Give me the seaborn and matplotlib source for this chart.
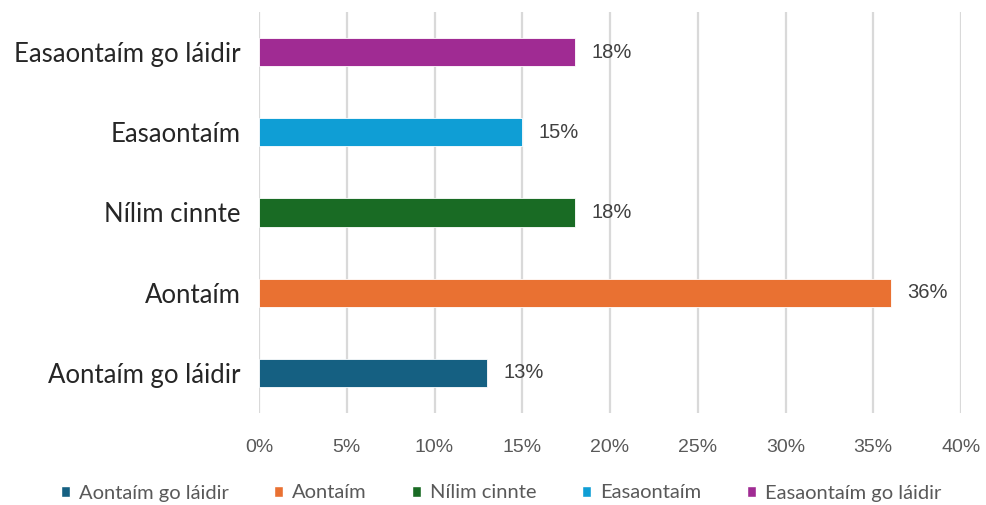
import matplotlib
matplotlib.use("Agg")
import matplotlib.pyplot as plt
import seaborn as sns
import pandas as pd
from matplotlib.ticker import FuncFormatter
from matplotlib.patches import Patch

categories = ["Easaontaím go láidir", "Easaontaím", "Nílim cinnte", "Aontaím", "Aontaím go láidir"]
values = [18, 15, 18, 36, 13]
legend_order = ["Aontaím go láidir", "Aontaím", "Nílim cinnte", "Easaontaím", "Easaontaím go láidir"]
colors = {
    "Aontaím go láidir": "#156082",
    "Aontaím": "#E97132",
    "Nílim cinnte": "#196B24",
    "Easaontaím": "#0F9ED5",
    "Easaontaím go láidir": "#A02B93",
}

sns.set_theme(style="white")
plt.rcParams["font.family"] = ["Lato", "DejaVu Sans"]

df = pd.DataFrame({"cat": categories, "val": values})

fig = plt.figure(figsize=(9.86, 5.05), dpi=100)
ax = fig.add_axes([259/986, 1-413/505, (961-259)/986, (413-12)/505])

sns.barplot(data=df, y="cat", x="val", hue="cat", order=categories, hue_order=legend_order,
            palette=colors, saturation=1, dodge=False, width=0.35, orient="h", ax=ax, legend=False,
            edgecolor="white", linewidth=0.6, zorder=3)

ax.set_xlim(0, 40)
ax.set_ylim(4.5, -0.5)
ax.set_xticks(range(0, 41, 5))
ax.xaxis.set_major_formatter(FuncFormatter(lambda v, p: f"{int(v)}%"))
ax.grid(axis="x", color="#d9d9d9", linewidth=1.6, zorder=0)
ax.grid(axis="y", visible=False)
for s in ax.spines.values():
    s.set_visible(False)
ax.set_xlabel("")
ax.set_ylabel("")
ax.tick_params(axis="x", labelsize=14, colors="#595959", pad=19, length=0)
ax.tick_params(axis="y", labelsize=18.5, colors="#262626", pad=13, length=0)
for lbl in ax.get_xticklabels():
    lbl.set_family(["Liberation Sans", "DejaVu Sans"])

for i, v in enumerate(values):
    ax.text(v + 0.95, i, f"{v}%", va="center", ha="left", fontsize=14.5, color="#404040",
            family=["Liberation Sans", "DejaVu Sans"])

handles = [Patch(facecolor=colors[c], label=c) for c in legend_order]
fig.legend(handles=handles, loc="center", bbox_to_anchor=(501/986, 1-493/505), ncol=5,
           frameon=False, fontsize=14.5, handlelength=0.45, handleheight=0.45,
           handletextpad=0.45, columnspacing=2.25, labelcolor="#595959")

fig.savefig("out.png", dpi=100)
